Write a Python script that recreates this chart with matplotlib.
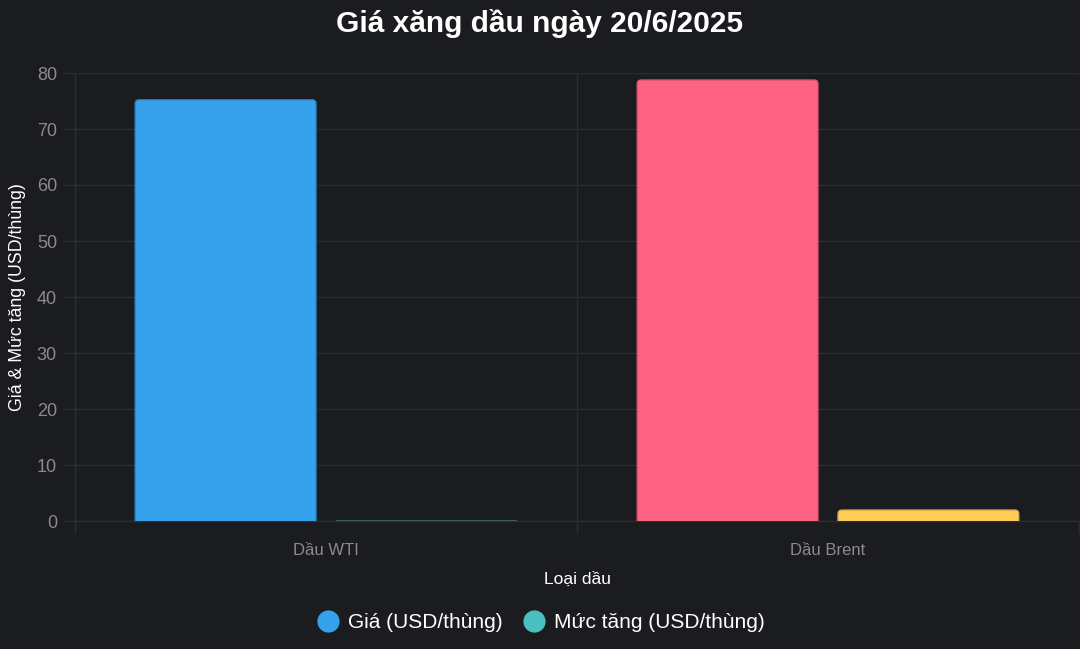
import matplotlib
matplotlib.use("Agg")
import matplotlib.pyplot as plt
from matplotlib.patches import FancyBboxPatch
from matplotlib.lines import Line2D
import numpy as np

plt.rcParams['font.family'] = ['Liberation Sans', 'DejaVu Sans']

categories = ["Dầu WTI", "Dầu Brent"]
series_names = ["Giá (USD/thùng)", "Mức tăng (USD/thùng)"]
gia = [75.2, 78.75]
muc_tang = [0.0, 1.95]
gia_colors = ["#36a2eb", "#ff6384"]
tang_colors = ["#4bc0c0", "#ffcd56"]
yticks = [0, 10, 20, 30, 40, 50, 60, 70, 80]

BG = "#1b1c20"
GRID = "#2c2d33"
TICK = "#8a8a8f"

W, H = 1080, 649
fig = plt.figure(figsize=(W/100, H/100), dpi=100, facecolor=BG)
x0, x1 = 75, 1079
y0, y1 = 521, 73
ax = fig.add_axes([x0/W, 1 - y0/H, (x1-x0)/W, (y0-y1)/H], facecolor=BG)
ax.set_xlim(0, 2)
ax.set_ylim(0, 80)

def darker(c, f=0.85):
    import matplotlib.colors as mc
    r, g, b = mc.to_rgb(c)
    return (r*f, g*f, b*f)

cat_w = 1.0
bar_group = 0.8 * cat_w
bw = bar_group / 2 * 0.9
px_x = 2 / (x1 - x0)
px_y = 80 / (y0 - y1)
aspect = px_y / px_x
rad = 4 * px_x

for i in range(len(categories)):
    centre = i + 0.5
    for j, (vals, cols) in enumerate([(gia, gia_colors), (muc_tang, tang_colors)]):
        slot_c = centre - bar_group/2 + bar_group/4 + j * bar_group/2
        v = vals[i]
        if v <= 0:
            ax.bar(slot_c, v, width=bw, color=cols[i], edgecolor="#3d6b6e", linewidth=1.2, zorder=3)
            continue
        ext = 6 * px_y
        p = FancyBboxPatch((slot_c - bw/2, -ext), bw, v + ext,
                           boxstyle=f"round,pad=0,rounding_size={rad}",
                           mutation_aspect=aspect,
                           facecolor=cols[i], edgecolor=darker(cols[i]), linewidth=1.0,
                           zorder=3, clip_on=True)
        ax.add_patch(p)

ax.set_yticks(yticks)
ax.set_yticklabels([str(t) for t in yticks])
ax.set_xticks([0, 1, 2], minor=False)
ax.set_xticklabels(["", "", ""])
ax.set_xticks([0.5, 1.5], minor=True)
ax.set_xticklabels(categories, minor=True)
ax.tick_params(axis='x', which='minor', length=0, pad=16, labelsize=12, labelcolor=TICK)
ax.tick_params(axis='x', which='major', length=9, color=GRID, width=1)
ax.tick_params(axis='y', length=9, color=GRID, width=1, labelsize=13, labelcolor=TICK, pad=4)
ax.grid(True, which='major', color=GRID, linewidth=1, zorder=0)
for s in ['top', 'right']:
    ax.spines[s].set_visible(False)
for s in ['left', 'bottom']:
    ax.spines[s].set_color(GRID)
    ax.spines[s].set_linewidth(1)

ax.set_xlabel("Loại dầu", color="white", fontsize=12.5, labelpad=10)
ax.set_ylabel("Giá & Mức tăng (USD/thùng)", color="white", fontsize=12.8, labelpad=8)

fig.text(0.5, 1 - 24/H, "Giá xăng dầu ngày 20/6/2025", ha='center', va='center',
         color="white", fontsize=21.5, fontweight='bold')

handles = [Line2D([], [], marker='o', linestyle='', markersize=15,
                  markerfacecolor=c, markeredgecolor=c) for c in [gia_colors[0], tang_colors[0]]]
fig.legend(handles, series_names, loc='center', bbox_to_anchor=(0.5, 1 - 623/H),
           ncol=2, frameon=False, fontsize=15, labelcolor="white",
           handletextpad=0.35, columnspacing=0.9, handlelength=1.2)

fig.savefig("out.png", dpi=100, facecolor=BG)
